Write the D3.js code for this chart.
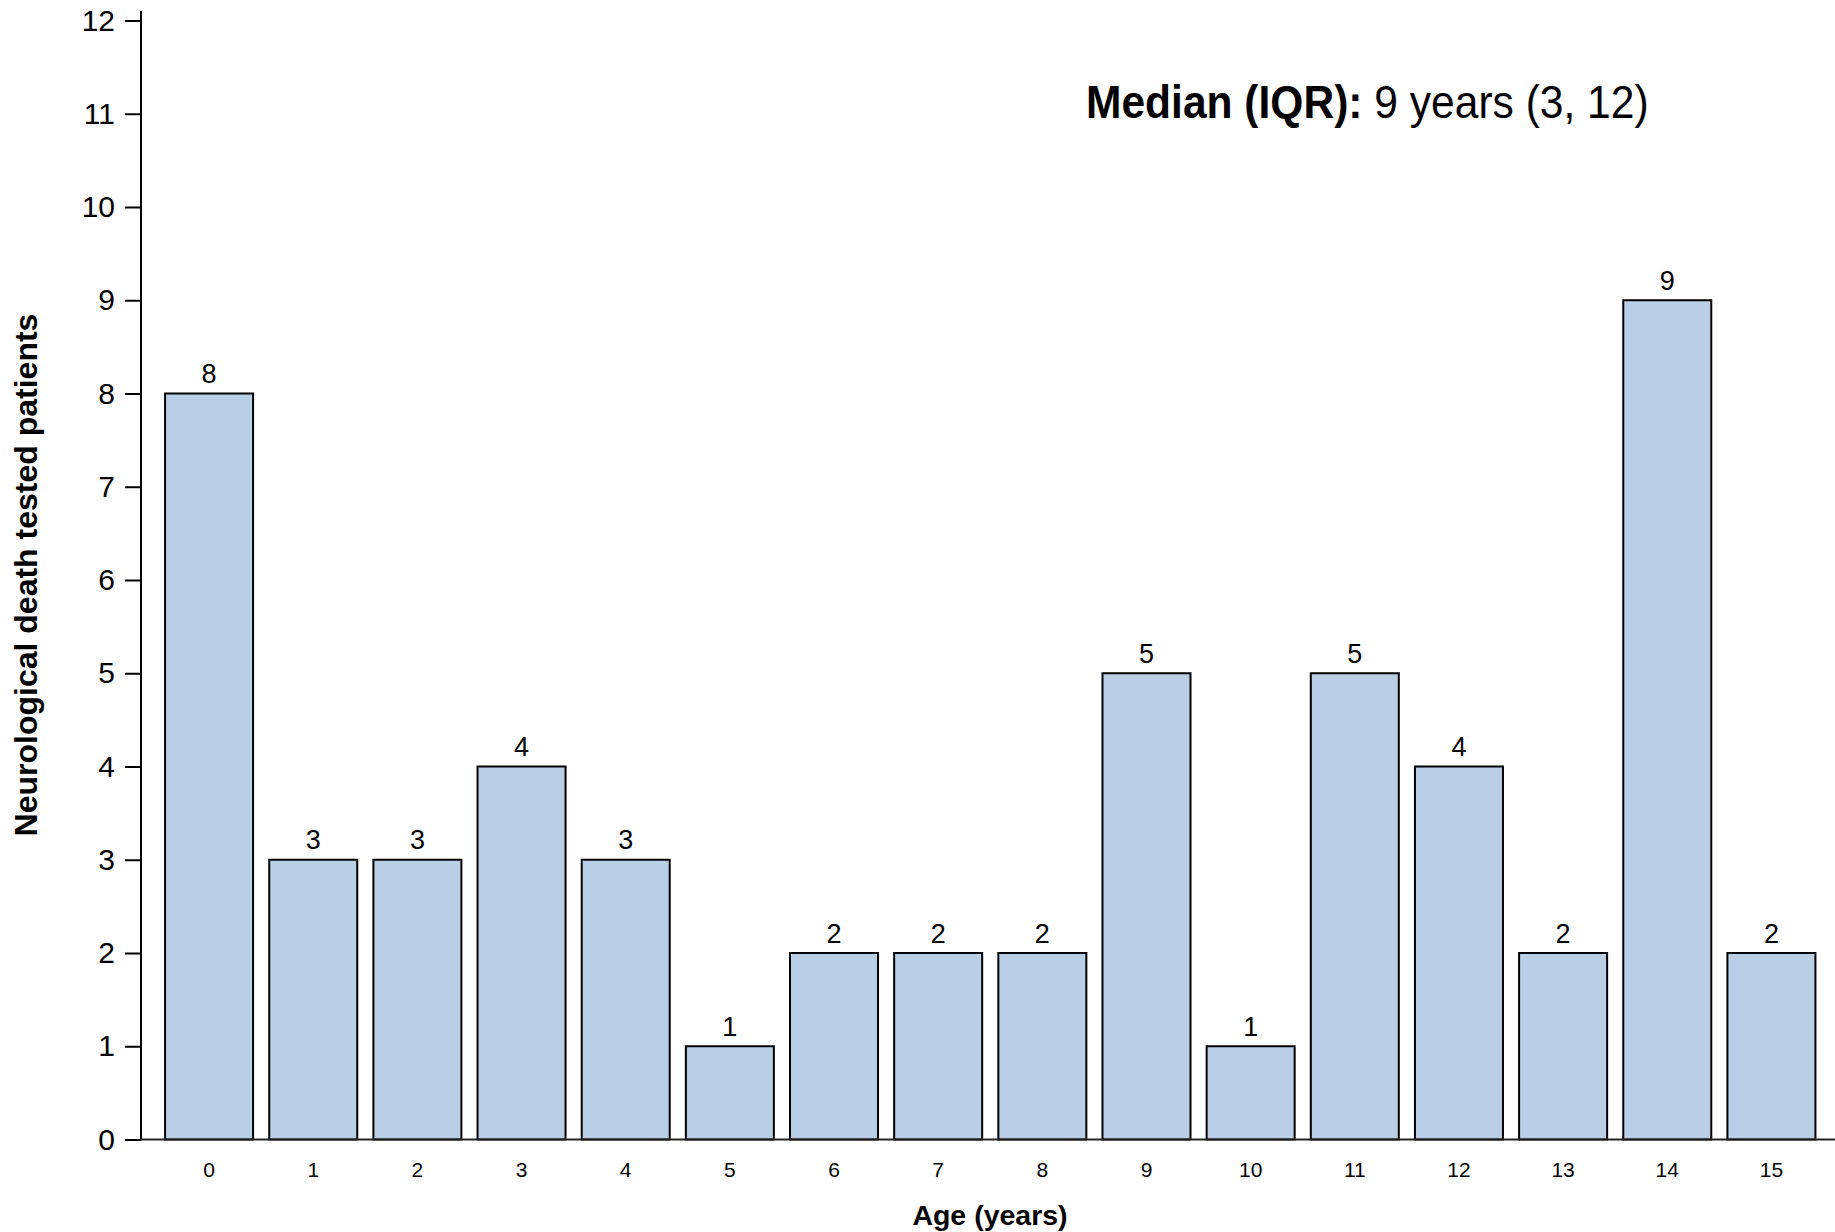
<!DOCTYPE html>
<html>
<head>
<meta charset="utf-8">
<script src="https://cdn.jsdelivr.net/npm/d3@7"></script>
<style>
  html, body { margin: 0; padding: 0; background: #fff; }
  svg text { font-family: "Liberation Sans", Arial, Helvetica, sans-serif; fill: #000; }
</style>
</head>
<body>
<svg id="chart" width="1835" height="1232"></svg>
<script>
const ages = ["0","1","2","3","4","5","6","7","8","9","10","11","12","13","14","15"];
const counts = [8,3,3,4,3,1,2,2,2,5,1,5,4,2,9,2];
const yTicks = [0,1,2,3,4,5,6,7,8,9,10,11,12];
const xTitle = "Age (years)";
const yTitle = "Neurological death tested patients";
const noteBold = "Median (IQR):";
const noteRegular = " 9 years (3, 12)";

const svg = d3.select("#chart");
const axisX0 = 141, axisY0 = 1139.5;

const x = d3.scaleBand().domain(ages).range([157, 1823.5]).paddingInner(0.155).paddingOuter(0.0775);
const y = d3.scaleLinear().domain([0, 12]).range([1139.5, 20.5]);

// bars
svg.append("g").selectAll("rect").data(counts).join("rect")
  .attr("x", (d, i) => x(ages[i]))
  .attr("y", d => y(d))
  .attr("width", x.bandwidth())
  .attr("height", d => y(0) - y(d))
  .attr("fill", "#b9cfe6")
  .attr("stroke", "#000")
  .attr("stroke-width", 2);

// value labels
svg.append("g").selectAll("text").data(counts).join("text")
  .attr("x", (d, i) => x(ages[i]) + x.bandwidth() / 2)
  .attr("y", d => y(d) - 10.5)
  .attr("text-anchor", "middle")
  .attr("font-size", 27)
  .text(d => d);

// y axis
const yAxis = d3.axisLeft(y).tickValues(yTicks).tickSize(16).tickPadding(10).tickFormat(d3.format("d"));
const gy = svg.append("g").attr("transform", `translate(${axisX0},0)`).call(yAxis);
gy.select(".domain").remove();
gy.selectAll(".tick line").attr("stroke", "#000").attr("stroke-width", 2);
gy.selectAll(".tick text").attr("font-size", 30).attr("font-family", "Liberation Sans, Arial, sans-serif").attr("fill", "#000");
svg.append("line").attr("x1", axisX0).attr("x2", axisX0).attr("y1", 11).attr("y2", axisY0 + 1)
  .attr("stroke", "#000").attr("stroke-width", 2);

// x axis
const xAxis = d3.axisBottom(x).tickSize(0).tickPadding(0);
const gx = svg.append("g").attr("transform", `translate(0,${axisY0})`).call(xAxis);
gx.select(".domain").remove();
gx.selectAll(".tick text").attr("font-size", 21).attr("font-family", "Liberation Sans, Arial, sans-serif")
  .attr("fill", "#000").attr("dy", null).attr("y", 1177 - axisY0);
svg.append("line").attr("x1", axisX0).attr("x2", 1835).attr("y1", axisY0).attr("y2", axisY0)
  .attr("stroke", "#222").attr("stroke-width", 2);

// axis titles
svg.append("text").attr("x", 990).attr("y", 1225).attr("text-anchor", "middle")
  .attr("font-size", 28.5).attr("font-weight", "bold").text(xTitle);
svg.append("text").attr("transform", "translate(37,575) rotate(-90)").attr("text-anchor", "middle")
  .attr("font-size", 32).attr("font-weight", "bold").text(yTitle);

// annotation
const note = svg.append("text").attr("transform", "translate(1086,118.3) scale(0.925,1)").attr("font-size", 46);
note.append("tspan").attr("font-weight", "bold").text(noteBold);
note.append("tspan").text(noteRegular);
</script>
</body>
</html>
